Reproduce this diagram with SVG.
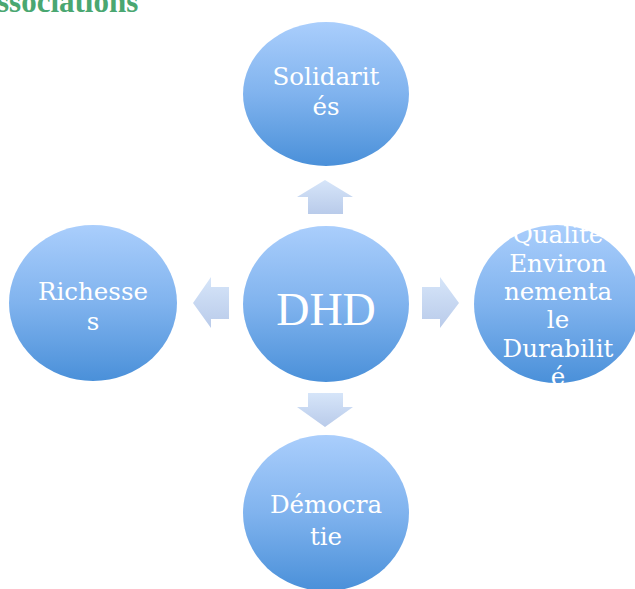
<svg xmlns="http://www.w3.org/2000/svg" width="635" height="589" viewBox="0 0 635 589">
<defs>
<linearGradient id="gc" x1="0" y1="0" x2="0" y2="1">
<stop offset="0" stop-color="#aacefc"/>
<stop offset="0.5" stop-color="#80b3ee"/>
<stop offset="1" stop-color="#4a90d9"/>
</linearGradient>
<linearGradient id="ga" x1="0" y1="0" x2="0" y2="1">
<stop offset="0" stop-color="#d6e5f9"/>
<stop offset="1" stop-color="#b9cbea"/>
</linearGradient>
</defs>
<style>
.c{fill:url(#gc)}
.a{fill:url(#ga)}
.t{font-family:"DejaVu Serif","Liberation Serif",serif;font-size:24.5px;fill:#ffffff;text-anchor:middle}
.big{font-family:"Liberation Serif","DejaVu Serif",serif;font-size:46px;fill:#ffffff;text-anchor:middle}
.title{font-family:"Liberation Serif","DejaVu Serif",serif;font-size:31px;font-weight:bold;fill:#4aa771}
</style>
<text class="title" x="-3" y="12">ssociations</text>
<g id="connectors">
<polygon class="a" points="325,180 353,197 343,197 343,214 308,214 308,197 297,197"/>
<polygon class="a" points="325,427 353,407 343,407 343,393 308,393 308,407 297,407"/>
<polygon class="a" points="193,303 211,277 211,287 229,287 229,319 211,319 211,328"/>
<polygon class="a" points="459,303 440,277 440,287 422,287 422,319 440,319 440,328"/>
</g>
<g id="center">
<ellipse class="c" cx="326" cy="304" rx="83" ry="78"/>
<text class="big" x="326" y="325">DHD</text>
</g>
<g id="top">
<ellipse class="c" cx="326" cy="94" rx="83" ry="72"/>
<text class="t" x="326" y="85">Solidarit</text>
<text class="t" x="326" y="115">és</text>
</g>
<g id="left">
<ellipse class="c" cx="93" cy="303" rx="84" ry="78"/>
<text class="t" x="93" y="300">Richesse</text>
<text class="t" x="93" y="330">s</text>
</g>
<g id="right">
<ellipse class="c" cx="557" cy="304" rx="83" ry="79"/>
<text class="t" x="558" y="243">Qualité</text>
<text class="t" x="558" y="272">Environ</text>
<text class="t" x="558" y="300">nementa</text>
<text class="t" x="558" y="328">le</text>
<text class="t" x="558" y="357">Durabilit</text>
<text class="t" x="558" y="385">é</text>
</g>
<g id="bottom">
<ellipse class="c" cx="326" cy="513" rx="83" ry="78"/>
<text class="t" x="326" y="513">Démocra</text>
<text class="t" x="326" y="545">tie</text>
</g>
</svg>
